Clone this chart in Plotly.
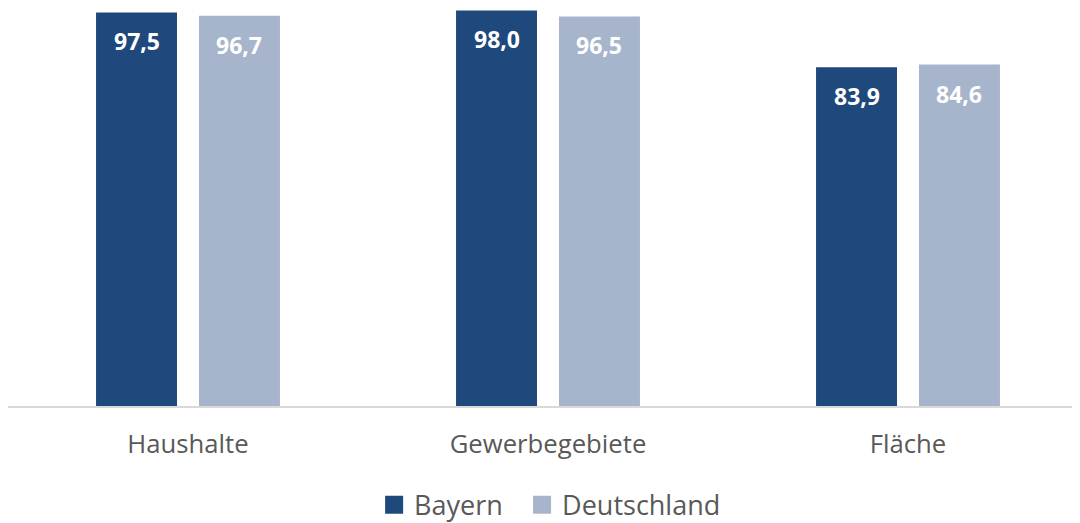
import plotly.graph_objects as go

categories = ["Haushalte", "Gewerbegebiete", "Fläche"]
bayern = [97.5, 98.0, 83.9]
deutschland = [96.7, 96.5, 84.6]
series_names = ["Bayern", "Deutschland"]

colors = ["#1F497D", "#A6B5CB"]
font_family = "Open Sans, Segoe UI, sans-serif"


def fmt(v):
    return f"{v:.1f}".replace(".", ",")


fig = go.Figure()
for i, (name, vals, col) in enumerate(zip(series_names, [bayern, deutschland], colors)):
    fig.add_trace(go.Bar(
        x=categories,
        y=vals,
        name=name,
        marker=dict(color=col, line=dict(width=0)),
        hoverinfo="skip",
        showlegend=False,
    ))
    # legend entry with a bigger square swatch, one legend per series
    fig.add_trace(go.Scatter(
        x=[None], y=[None],
        mode="markers",
        name=name,
        legend="legend" if i == 0 else "legend2",
        marker=dict(symbol="square", size=17, color=col,
                    line=dict(color=col, width=2)),
    ))

# value labels inside bars, a bit below the top edge
annotations = []
for vals, shift in [(bayern, -51), (deutschland, 51)]:
    for cat, v in zip(categories, vals):
        annotations.append(dict(
            x=cat, y=v, xref="x", yref="y",
            text=f"<b>{fmt(v)}</b>", showarrow=False,
            xshift=shift, yshift=-29,
            font=dict(family=font_family, size=23, color="white"),
        ))

legend_style = dict(
    orientation="h",
    xanchor="left",
    y=-0.249, yanchor="middle",
    font=dict(family=font_family, size=27, color="#595959"),
    itemwidth=30,
    itemsizing="trace",
    bgcolor="rgba(0,0,0,0)",
)

fig.update_layout(
    width=1080,
    height=523,
    margin=dict(l=0, r=0, t=0, b=125, autoexpand=False),
    plot_bgcolor="white",
    paper_bgcolor="white",
    barmode="group",
    bargap=0.428,
    bargroupgap=0.2136,
    annotations=annotations,
    showlegend=True,
    legend=dict(x=0.339, **legend_style),
    legend2=dict(x=0.476, **legend_style),
    xaxis=dict(
        range=[-0.5, 2.5],
        showgrid=False,
        showline=True,
        linecolor="#D9D9D9",
        linewidth=2,
        ticks="",
        tickfont=dict(family=font_family, size=25.7, color="#595959"),
        ticklabelstandoff=14,
    ),
    yaxis=dict(
        range=[0, 98.6],
        visible=False,
        showgrid=False,
    ),
)

fig.write_html("out.html")
